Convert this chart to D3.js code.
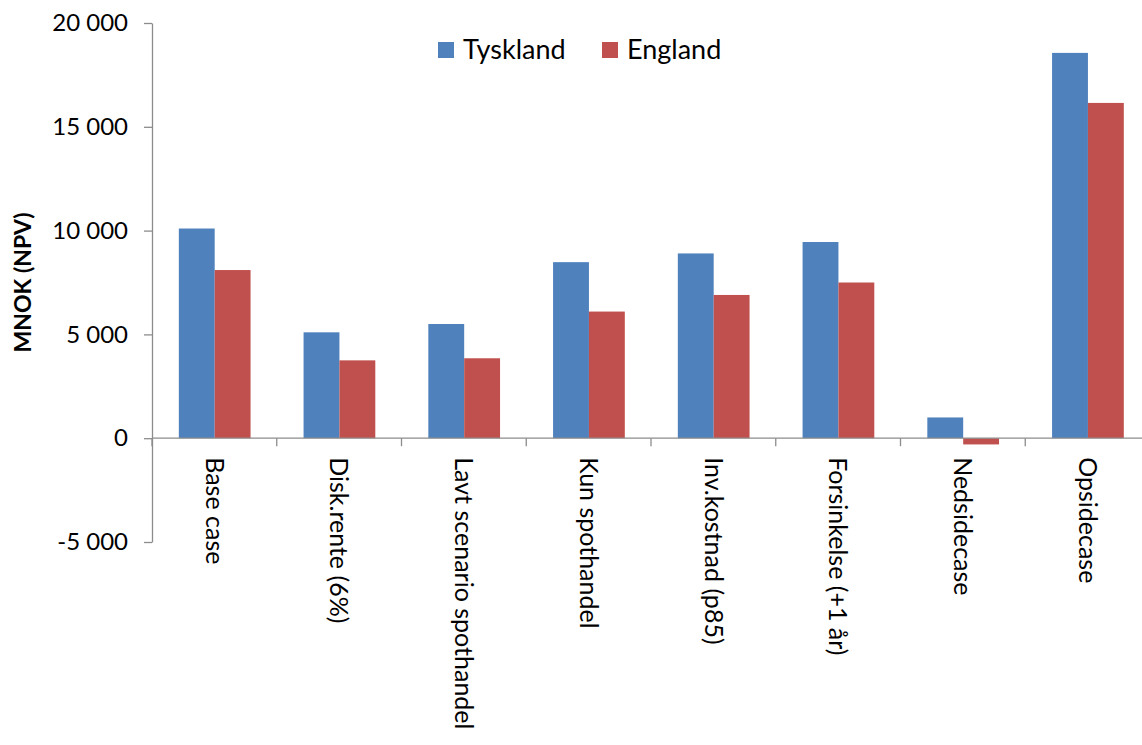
<!DOCTYPE html>
<html lang="no">
<head>
    <meta charset="UTF-8">
    <title>MNOK (NPV)</title>
    <style>
        body { margin: 0; background: #fff; }
        svg { display: block; font-family: Lato, "Open Sans", sans-serif; }
        .tick text { fill: #000; }
    </style>
</head>
<body>
    <svg id="chart"></svg>
    <script src="https://cdnjs.cloudflare.com/ajax/libs/d3/7.8.5/d3.min.js"></script>
    <script>
        // Scenarios along the x axis
        var categories = ["Base case", "Disk.rente (6%)", "Lavt scenario spothandel", "Kun spothandel",
            "Inv.kostnad (p85)", "Forsinkelse (+1 år)", "Nedsidecase", "Opsidecase"];
        var seriesNames = ["Tyskland", "England"];
        var tyskland = [10100, 5100, 5500, 8480, 8900, 9450, 1000, 18560];
        var england = [8100, 3750, 3850, 6100, 6900, 7500, -300, 16150];
        var yTicks = [-5000, 0, 5000, 10000, 15000, 20000];
        var colours = ["#4f81bd", "#c0504d"];

        var width = 1142, height = 745;
        var margin = { left: 152, right: -8, top: 23, bottom: 203 };
        var axisGrey = "#8c8c8c";

        var svg = d3.select("#chart").attr("width", width).attr("height", height);

        var x = d3.scaleBand()
            .domain(categories)
            .range([margin.left, width - margin.right]);

        // bars cover ~58% of each band, centred
        var x1 = d3.scaleBand()
            .domain(seriesNames)
            .range([x.bandwidth() * 0.215, x.bandwidth() * 0.79]);

        var y = d3.scaleLinear()
            .domain([-5000, 20000])
            .range([height - margin.bottom, margin.top]);

        var fmt = function (d) { return d3.format(",")(d).replace(/,/g, " ").replace("\u2212", "-"); };

        // Y axis
        var yAxis = svg.append("g")
            .attr("transform", "translate(" + margin.left + ",0)")
            .call(d3.axisLeft(y).tickValues(yTicks).tickSize(8).tickSizeOuter(0).tickPadding(16).tickFormat(fmt))
            .attr("font-family", null)
            .attr("font-size", null);
        yAxis.select(".domain").attr("stroke", axisGrey).attr("stroke-width", 1.3);
        yAxis.selectAll(".tick line").attr("stroke", axisGrey).attr("stroke-width", 1.3);
        yAxis.selectAll(".tick text").style("font-size", "24px");

        // Bars
        var rows = categories.map(function (c, i) {
            return { cat: c, values: [tyskland[i], england[i]] };
        });

        var groups = svg.append("g").selectAll("g")
            .data(rows)
            .enter().append("g")
            .attr("transform", function (d) { return "translate(" + x(d.cat) + ",0)"; });

        groups.selectAll("rect")
            .data(function (d) { return d.values.map(function (v, j) { return { name: seriesNames[j], value: v, j: j }; }); })
            .enter().append("rect")
            .attr("x", function (d) { return x1(d.name); })
            .attr("width", x1.bandwidth())
            .attr("y", function (d) { return y(Math.max(0, d.value)); })
            .attr("height", function (d) { return Math.abs(y(d.value) - y(0)); })
            .attr("fill", function (d) { return colours[d.j]; });

        // X axis at zero
        var xAxis = svg.append("g")
            .attr("transform", "translate(0," + y(0) + ")");
        xAxis.append("line")
            .attr("x1", margin.left).attr("x2", width - margin.right)
            .attr("stroke", axisGrey).attr("stroke-width", 1.3);
        xAxis.selectAll("line.tk")
            .data(categories)
            .enter().append("line")
            .attr("class", "tk")
            .attr("x1", function (d) { return x(d); })
            .attr("x2", function (d) { return x(d); })
            .attr("y1", 0).attr("y2", 8)
            .attr("stroke", axisGrey).attr("stroke-width", 1.3);
        xAxis.selectAll("text")
            .data(categories)
            .enter().append("text")
            .attr("transform", function (d) {
                return "translate(" + (x(d) + x.bandwidth() / 2) + ",19) rotate(90)";
            })
            .attr("dy", "0.35em")
            .style("font-size", "25px")
            .attr("fill", "#000")
            .text(function (d) { return d; });

        // Y title
        svg.append("text")
            .attr("transform", "translate(23," + ((y(-5000) + y(20000)) / 2) + ") rotate(-90)")
            .attr("text-anchor", "middle")
            .attr("dy", "0.35em")
            .style("font-size", "23px")
            .style("font-weight", "bold")
            .text("MNOK (NPV)");

        // Legend
        var legend = svg.append("g").selectAll("g")
            .data(seriesNames)
            .enter().append("g")
            .attr("transform", function (d, i) { return "translate(" + [438, 602][i] + ",42)"; });
        legend.append("rect")
            .attr("width", 16).attr("height", 16)
            .attr("fill", function (d, i) { return colours[i]; });
        legend.append("text")
            .attr("x", 25).attr("y", 8)
            .attr("dy", "0.35em")
            .style("font-size", "27px")
            .text(function (d) { return d; });
    </script>
</body>
</html>
